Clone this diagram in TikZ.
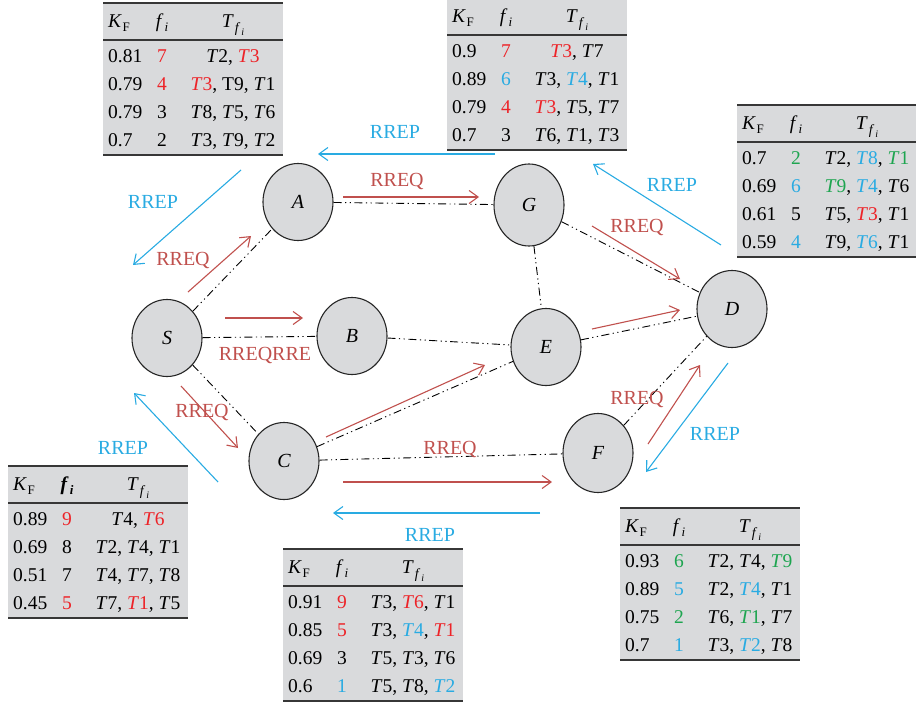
\documentclass[tikz,border=0pt]{standalone}
\usepackage{fontspec}
\setmainfont{Liberation Serif}
\usetikzlibrary{arrows.meta,shapes.geometric}
\definecolor{nodegray}{RGB}{217,218,220}
\definecolor{arred}{RGB}{192,80,77}
\definecolor{arblue}{RGB}{41,171,226}
\definecolor{tred}{RGB}{237,35,40}
\definecolor{tblue}{RGB}{41,171,226}
\definecolor{tgreen}{RGB}{30,165,80}
\definecolor{rulegray}{RGB}{55,55,55}
\newcommand{\Tn}[1]{\textit{T}#1}
\newcommand{\redx}[1]{\textcolor{tred}{#1}}
\newcommand{\bluex}[1]{\textcolor{tblue}{#1}}
\newcommand{\greenx}[1]{\textcolor{tgreen}{#1}}
\newcommand{\subsz}[1]{\raisebox{-0.45ex}{\fontsize{13}{14}\selectfont #1}}
\newcommand{\hdK}{\textit{K}\kern0.5pt\subsz{F}}
\newcommand{\hdf}{\textit{f}\kern1pt\subsz{\textit{i}}}
\newcommand{\hdfb}{\textbf{\textit{f}\kern1pt\subsz{\textbf{\textit{i}}}}}
\newcommand{\hdT}{\textit{T}\kern1pt\raisebox{-0.6ex}{\fontsize{14}{15}\selectfont\textit{f}\kern1pt\raisebox{-0.55ex}{\fontsize{10}{11}\selectfont\textit{i}}}}
\tikzset{
  labfont/.style={font=\fontsize{20}{23}\selectfont},
  tabtxt/.style={font=\fontsize{19.5}{22}\selectfont, inner sep=0pt, text=black},
  netnode/.style={ellipse, draw=black!85, line width=1.1pt, fill=nodegray,
    minimum width=70pt, minimum height=77pt, inner sep=0pt,
    font=\fontsize{20}{23}\selectfont\itshape},
  link/.style={black, line width=0.9pt,
    dash pattern=on 8pt off 3.5pt on 1.2pt off 3.5pt on 1.2pt off 3.5pt},
  req/.style={arred, line width=1.1pt, -{Straight Barb[length=9pt,width=13pt]}},
  rep/.style={arblue, line width=1.1pt, -{Straight Barb[length=9pt,width=13pt]}},
  reqlab/.style={labfont, text=arred, inner sep=0pt},
  replab/.style={labfont, text=arblue, inner sep=0pt},
}
% table frame: name, x, y, f-header
\newcommand{\mytable}[4]{%
  \begin{scope}[shift={(#2,#3)}]
    \fill[nodegray] (0,0) rectangle (180,152);
    \draw[rulegray, line width=1.7pt] (0,0) -- (180,0);
    \draw[rulegray, line width=1.2pt] (0,37) -- (180,37);
    \draw[rulegray, line width=1.7pt] (0,152) -- (180,152);
    \node[tabtxt, anchor=base west] (#1hk) at (5,24) {\hdK};
    \node[tabtxt, anchor=base] (#1hf) at (59,24) {#4};
    \node[tabtxt, anchor=base] (#1ht) at (130,24) {\hdT};
  \end{scope}}
% table row: name, x, y, row, K, f, T
\newcommand{\tabrow}[7]{%
  \begin{scope}[shift={(#2,#3)}]
    \node[tabtxt, anchor=base west] (#1k#4) at (5,{59+28.3*(#4-1)}) {#5};
    \node[tabtxt, anchor=base] (#1f#4) at (59,{59+28.3*(#4-1)}) {#6};
    \node[tabtxt, anchor=base] (#1t#4) at (130,{59+28.3*(#4-1)}) {#7};
  \end{scope}}
\begin{document}
\begin{tikzpicture}[x=1pt, y=-1pt]
\useasboundingbox (0,0) rectangle (916,707);

% ---------- tables ----------
\mytable{ta}{103}{3}{\hdf}
\tabrow{ta}{103}{3}{1}{0.81}{\redx{7}}{\Tn2, \redx{\Tn3}}
\tabrow{ta}{103}{3}{2}{0.79}{\redx{4}}{\redx{\Tn3}, T9, \Tn1}
\tabrow{ta}{103}{3}{3}{0.79}{3}{\Tn8, \Tn5, \Tn6}
\tabrow{ta}{103}{3}{4}{0.7}{2}{\Tn3, \Tn9, \Tn2}

\mytable{tg}{447}{-2}{\hdf}
\tabrow{tg}{447}{-2}{1}{0.9}{\redx{7}}{\redx{\Tn3}, \Tn7}
\tabrow{tg}{447}{-2}{2}{0.89}{\bluex{6}}{\Tn3, \bluex{\Tn4}, \Tn1}
\tabrow{tg}{447}{-2}{3}{0.79}{\redx{4}}{\redx{\Tn3}, \Tn5, \Tn7}
\tabrow{tg}{447}{-2}{4}{0.7}{3}{\Tn6, \Tn1, \Tn3}

\mytable{td}{737}{105}{\hdf}
\tabrow{td}{737}{105}{1}{0.7}{\greenx{2}}{\Tn2, \bluex{\Tn8}, \greenx{\Tn1}}
\tabrow{td}{737}{105}{2}{0.69}{\bluex{6}}{\greenx{\Tn9}, \bluex{\Tn4}, \Tn6}
\tabrow{td}{737}{105}{3}{0.61}{5}{\Tn5, \redx{\Tn3}, \Tn1}
\tabrow{td}{737}{105}{4}{0.59}{\bluex{4}}{\Tn9, \bluex{\Tn6}, \Tn1}

\mytable{ts}{8}{466}{\hdfb}
\tabrow{ts}{8}{466}{1}{0.89}{\redx{9}}{\Tn4, \redx{\Tn6}}
\tabrow{ts}{8}{466}{2}{0.69}{8}{\Tn2, \Tn4, \Tn1}
\tabrow{ts}{8}{466}{3}{0.51}{7}{\Tn4, \Tn7, \Tn8}
\tabrow{ts}{8}{466}{4}{0.45}{\redx{5}}{\Tn7, \redx{\Tn1}, \Tn5}

\mytable{tc}{283}{549}{\hdf}
\tabrow{tc}{283}{549}{1}{0.91}{\redx{9}}{\Tn3, \redx{\Tn6}, \Tn1}
\tabrow{tc}{283}{549}{2}{0.85}{\redx{5}}{\Tn3, \bluex{\Tn4}, \redx{\Tn1}}
\tabrow{tc}{283}{549}{3}{0.69}{3}{\Tn5, \Tn3, \Tn6}
\tabrow{tc}{283}{549}{4}{0.6}{\bluex{1}}{\Tn5, \Tn8, \bluex{\Tn2}}

\mytable{tf}{620}{508}{\hdf}
\tabrow{tf}{620}{508}{1}{0.93}{\greenx{6}}{\Tn2, \Tn4, \greenx{\Tn9}}
\tabrow{tf}{620}{508}{2}{0.89}{\bluex{5}}{\Tn2, \bluex{\Tn4}, \Tn1}
\tabrow{tf}{620}{508}{3}{0.75}{\greenx{2}}{\Tn6, \greenx{\Tn1}, \Tn7}
\tabrow{tf}{620}{508}{4}{0.7}{\bluex{1}}{\Tn3, \bluex{\Tn2}, \Tn8}

% ---------- network nodes ----------
\node[netnode] (S) at (167,338) {S};
\node[netnode] (A) at (298,202) {A};
\node[netnode] (B) at (352,336) {B};
\node[netnode] (C) at (284,461) {C};
\node[netnode, minimum height=82pt] (G) at (529,205) {G};
\node[netnode] (E) at (546,347) {E};
\node[netnode] (D) at (732,309) {D};
\node[netnode, minimum height=79pt] (F) at (598,453) {F};

% ---------- links ----------
\draw[link] (S) -- (A);
\draw[link] (S) -- (B);
\draw[link] (S) -- (C);
\draw[link] (A) -- (G);
\draw[link] (B) -- (E);
\draw[link] (C) -- (E);
\draw[link] (C) -- (F);
\draw[link] (G) -- (E);
\draw[link] (G) -- (D);
\draw[link] (E) -- (D);
\draw[link] (F) -- (D);

% ---------- RREQ arrows ----------
\coordinate (q1s) at (188,292); \coordinate (q1e) at (251,236);
\coordinate (q2s) at (225,318); \coordinate (q2e) at (303,318);
\coordinate (q3s) at (181,386); \coordinate (q3e) at (238,448);
\coordinate (q4s) at (343,197); \coordinate (q4e) at (479,197);
\coordinate (q5s) at (592,226); \coordinate (q5e) at (680,279);
\coordinate (q6s) at (592,329); \coordinate (q6e) at (680,310);
\coordinate (q7s) at (326,437); \coordinate (q7e) at (485,365);
\coordinate (q8s) at (343,482); \coordinate (q8e) at (552,482);
\coordinate (q9s) at (648,444); \coordinate (q9e) at (700,365);
\draw[req] (q1s) -- (q1e);
\draw[req] (q2s) -- (q2e);
\draw[req] (q3s) -- (q3e);
\draw[req] (q4s) -- (q4e);
\draw[req] (q5s) -- (q5e);
\draw[req] (q6s) -- (q6e);
\draw[req] (q7s) -- (q7e);
\draw[req] (q8s) -- (q8e);
\draw[req] (q9s) -- (q9e);

% ---------- RREP arrows ----------
\coordinate (p1s) at (495,154); \coordinate (p1e) at (318,154);
\coordinate (p2s) at (241,170); \coordinate (p2e) at (133,265);
\coordinate (p3s) at (721,245); \coordinate (p3e) at (593,164);
\coordinate (p4s) at (728,363); \coordinate (p4e) at (646,472);
\coordinate (p5s) at (540,513); \coordinate (p5e) at (333,513);
\coordinate (p6s) at (218,482); \coordinate (p6e) at (134,393);
\draw[rep] (p1s) -- (p1e);
\draw[rep] (p2s) -- (p2e);
\draw[rep] (p3s) -- (p3e);
\draw[rep] (p4s) -- (p4e);
\draw[rep] (p5s) -- (p5e);
\draw[rep] (p6s) -- (p6e);

% ---------- labels ----------
\node[reqlab] (lq1) at (183,260) {RREQ};
\node[reqlab] (lq2) at (265,355) {RREQRRE};
\node[reqlab] (lq3) at (202,412) {RREQ};
\node[reqlab] (lq4) at (397,181) {RREQ};
\node[reqlab] (lq5) at (637,227) {RREQ};
\node[reqlab] (lq6) at (637,399) {RREQ};
\node[reqlab] (lq7) at (450,449) {RREQ};
\node[replab] (lp1) at (395,132) {RREP};
\node[replab] (lp2) at (153,202) {RREP};
\node[replab] (lp3) at (672,185) {RREP};
\node[replab] (lp4) at (715,434) {RREP};
\node[replab] (lp5) at (430,535) {RREP};
\node[replab] (lp6) at (123,448) {RREP};
\end{tikzpicture}
\end{document}
